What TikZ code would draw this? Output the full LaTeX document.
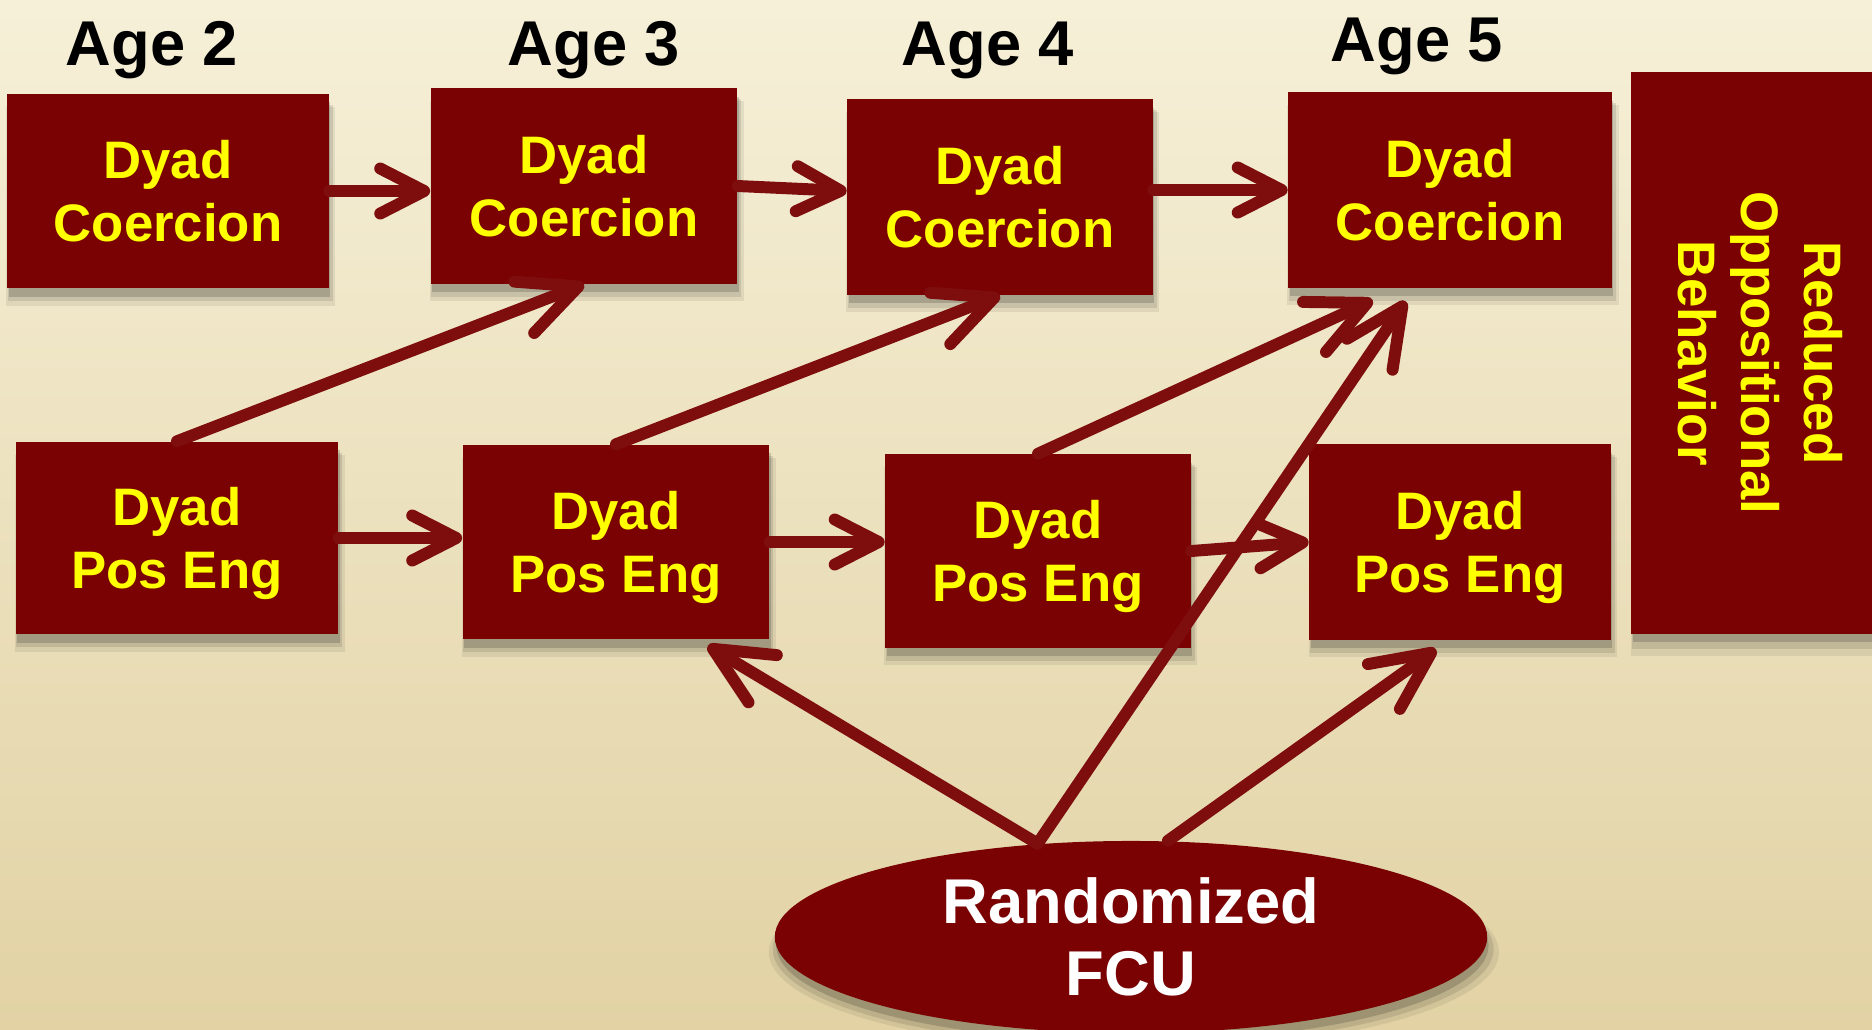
\documentclass[tikz,border=0pt]{standalone}
\usepackage{fontspec}
\setmainfont{Liberation Sans}
\usetikzlibrary{arrows.meta,shapes.geometric,shadows,calc}

\definecolor{boxred}{RGB}{122,2,2}
\definecolor{arrred}{RGB}{126,14,14}
\definecolor{txtyellow}{RGB}{255,255,0}
\definecolor{paperlight}{RGB}{246,240,216}
\definecolor{papermid}{RGB}{238,228,194}
\definecolor{paperdark}{RGB}{226,210,164}

\begin{document}
\begin{tikzpicture}[x=0.01cm, y=-0.01cm,
  % soft shadow built from a few translucent layers
  boxshadow/.style={
      general shadow={fill=black, opacity=0.07, shadow xshift=0.8pt, shadow yshift=-4.2pt, shadow scale=1.025},
      general shadow={fill=black, opacity=0.10, shadow xshift=0.6pt, shadow yshift=-3.4pt, shadow scale=1.012},
      general shadow={fill=black, opacity=0.16, shadow xshift=0.4pt, shadow yshift=-2.4pt, shadow scale=1.0}},
  dyad/.style={rectangle, fill=boxred, boxshadow, inner sep=0pt, align=center,
      text=txtyellow, font=\fontsize{15}{18}\selectfont\bfseries},
  rowbox/.style={dyad, text depth=0pt},
  agelabel/.style={anchor=base, text=black, font=\fontsize{18}{21}\selectfont\bfseries},
  fcu/.style={ellipse, fill=boxred, boxshadow, inner sep=0pt, align=center,
      minimum width=7.12cm, minimum height=1.92cm,
      text=white, font=\fontsize{18}{20.5}\selectfont\bfseries},
  flow/.style={draw=arrred, line width=3.4pt, line cap=round,
      -{Straight Barb[length=4.4mm, width=4.5mm, round]}},
  bigflow/.style={flow, -{Straight Barb[length=5.8mm, width=5.5mm, round]}}
]
  \useasboundingbox (0,0) rectangle (1872,1029);
  \clip (0,0) rectangle (1872,1029);

  % parchment background
  \shade[top color=paperlight, middle color=papermid, bottom color=paperdark]
    (0,0) rectangle (1872,1029);

  % age headings
  \node[agelabel] (a2) at (152,65) {Age 2};
  \node[agelabel] (a3) at (594,65) {Age 3};
  \node[agelabel] (a4) at (988,65) {Age 4};
  \node[agelabel] (a5) at (1417,61) {Age 5};

  % coercion row
  \node[rowbox, minimum width=3.21cm, minimum height=1.94cm] (C2) at (168,191) {Dyad\\Coercion};
  \node[rowbox, minimum width=3.06cm, minimum height=1.95cm] (C3) at (584,186) {Dyad\\Coercion};
  \node[rowbox, minimum width=3.05cm, minimum height=1.95cm] (C4) at (1000,197) {Dyad\\Coercion};
  \node[rowbox, minimum width=3.23cm, minimum height=1.95cm] (C5) at (1450,190) {Dyad\\Coercion};

  % positive engagement row
  \node[rowbox, minimum width=3.22cm, minimum height=1.92cm] (P2) at (177,538) {Dyad\\Pos Eng};
  \node[rowbox, minimum width=3.06cm, minimum height=1.94cm] (P3) at (616,542) {Dyad\\Pos Eng};
  \node[rowbox, minimum width=3.05cm, minimum height=1.93cm] (P4) at (1038,551) {Dyad\\Pos Eng};
  \node[rowbox, minimum width=3.01cm, minimum height=1.95cm] (P5) at (1460,542) {Dyad\\Pos Eng};

  % outcome column
  \node[dyad, minimum width=2.45cm, minimum height=5.61cm] (R) at (1754,353)
    {\rotatebox{-90}{\begin{tabular}{@{}c@{}}Reduced\\Oppositional\\Behavior\end{tabular}}};

  % intervention
  \node[fcu] (F) at (1131,937) {Randomized\\FCU};

  % stability paths
  \draw[flow] (C2.east) -- (C2.east -| C3.west);
  \coordinate (c4in) at ($(C4.west)+(0,-6)$);
  \draw[flow] (C3.east) -- (c4in);
  \draw[flow] (C4.east |- C5.west) -- (C5.west);
  \draw[flow] (P2.east) -- (P2.east -| P3.west);
  \draw[flow] (P3.east) -- (P3.east -| P4.west);
  \draw[flow] (P4.east) -- (P5.west);

  % cross-lagged paths
  \draw[bigflow] (P2.north) -- (C3.south);
  \draw[bigflow] (P3.north) -- (C4.south);
  \coordinate (c5a) at ($(C5.south west)+(85,12)$);
  \draw[bigflow] (P4.north) -- (c5a);

  % intervention effects
  \coordinate (c5b) at ($(C5.south west)+(118,13)$);
  \coordinate (p3b) at ($(P3.south east)+(-62,6)$);
  \coordinate (p5b) at ($(P5.south)+(-24,9)$);
  \draw[bigflow] (F.135) -- (c5b);
  \draw[bigflow] (F.135) -- (p3b);
  \draw[bigflow] (F.69) -- (p5b);
\end{tikzpicture}
\end{document}
